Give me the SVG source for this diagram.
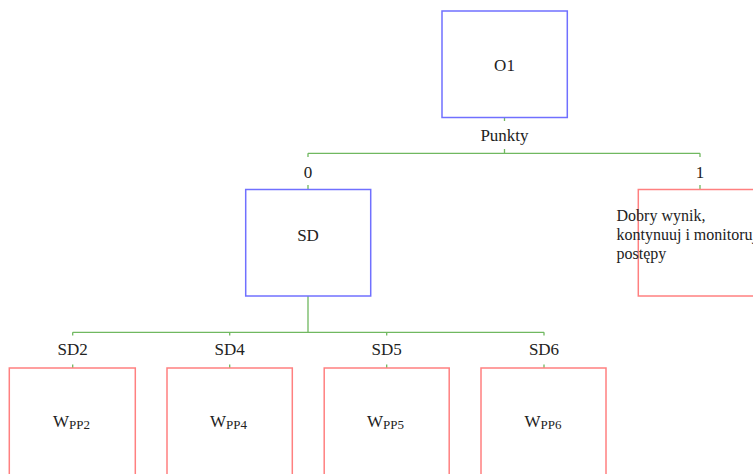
<svg xmlns="http://www.w3.org/2000/svg" width="753" height="474" viewBox="0 0 753 474">
<style>
.blue{fill:#fff;stroke:#7070ff;stroke-width:1.5}
.red{fill:#fff;stroke:#ff8080;stroke-width:1.5}
.con{fill:none;stroke:#70b860;stroke-width:1.3}
.t{font-size:17px;fill:#222;text-anchor:middle}
.w{font-size:17px;fill:#222}
.d{font-size:16px;fill:#222}
</style>
<rect width="753" height="474" fill="#fff"/>
<g id="connectors">
<path class="con" d="M504.5 117.5V121M504.5 149V153.3M308 153.3H700M308 153.3V157M700 153.3V157M308 185V189.5M700 185V189.5"/>
<path class="con" d="M308 296V332.3M72.7 332.3H544M72.7 332.3V335.5M229.7 332.3V335.5M386.7 332.3V335.5M544 332.3V335.5M72.7 364.5V368M229.7 364.5V368M386.7 364.5V368M544 364.5V368"/>
</g>
<g font-family="Liberation Serif, serif">
<g id="labels">
<text class="t" x="504.5" y="141" font-size="18">Punkty</text>
<text class="t" x="308" y="178">0</text>
<text class="t" x="700" y="178">1</text>
<text class="t" x="72.7" y="355">SD2</text>
<text class="t" x="229.7" y="355">SD4</text>
<text class="t" x="386.7" y="355">SD5</text>
<text class="t" x="544" y="355">SD6</text>
</g>
<g id="O1">
<rect class="blue" x="442" y="11" width="125.3" height="106.5"/>
<text class="t" x="504.5" y="70.5">O1</text>
</g>
<g id="SD">
<rect class="blue" x="245.7" y="189.5" width="125" height="106.5"/>
<text class="t" x="308" y="240.5">SD</text>
</g>
<g id="result1">
<rect class="red" x="638.3" y="189.5" width="125" height="106.5"/>
<text class="d" x="616.5" y="220.5">Dobry wynik,</text>
<text class="d" x="616.5" y="239.5">kontynuuj i monitoruj</text>
<text class="d" x="616.5" y="258.5">postępy</text>
</g>
<g id="WPP2">
<rect class="red" x="9.3" y="368" width="126" height="120"/>
<text class="w" x="53" y="426.5">W<tspan font-size="13" dy="2.5">PP2</tspan></text>
</g>
<g id="WPP4">
<rect class="red" x="167" y="368" width="125.3" height="120"/>
<text class="w" x="210" y="426.5">W<tspan font-size="13" dy="2.5">PP4</tspan></text>
</g>
<g id="WPP5">
<rect class="red" x="324.2" y="368" width="125" height="120"/>
<text class="w" x="367" y="426.5">W<tspan font-size="13" dy="2.5">PP5</tspan></text>
</g>
<g id="WPP6">
<rect class="red" x="481" y="368" width="125" height="120"/>
<text class="w" x="524.5" y="426.5">W<tspan font-size="13" dy="2.5">PP6</tspan></text>
</g>
</g>
</svg>
